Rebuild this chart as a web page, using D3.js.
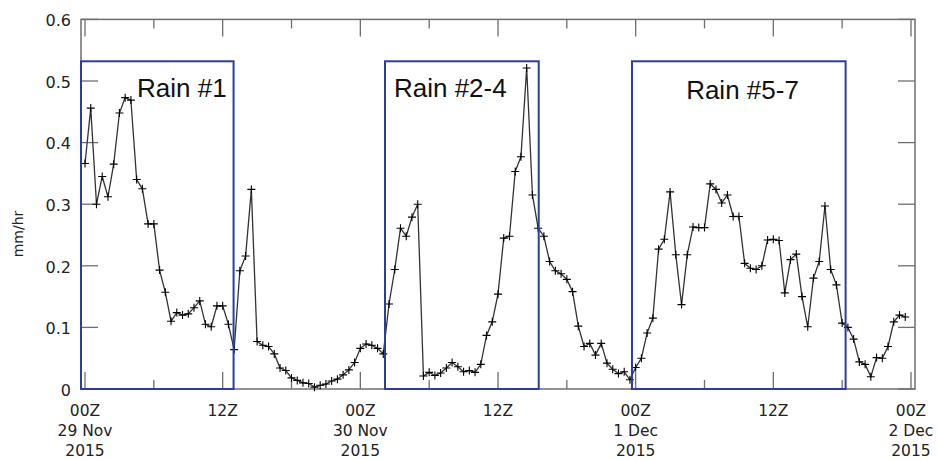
<!DOCTYPE html>
<html><head><meta charset="utf-8">
<script src="https://cdn.jsdelivr.net/npm/d3@7"></script>
<style>body{margin:0;background:#fff}svg{display:block}</style>
</head><body>
<svg id="chart" width="938" height="460"></svg>
<script>
// half-hourly rain rate (mm/hr) from 00Z 29 Nov 2015
const startHour = 0, stepHours = 0.5;
const rainRate = [
0.366,0.456,0.300,0.345,0.312,0.365,0.448,0.473,0.469,0.340,
0.325,0.268,0.268,0.193,0.157,0.110,0.124,0.120,0.122,0.132,
0.143,0.105,0.101,0.135,0.135,0.105,0.064,0.192,0.216,0.324,
0.077,0.071,0.069,0.057,0.034,0.030,0.018,0.014,0.010,0.009,
0.003,0.006,0.008,0.013,0.016,0.023,0.031,0.043,0.066,0.073,
0.071,0.066,0.057,0.138,0.194,0.261,0.248,0.279,0.300,0.021,
0.027,0.022,0.026,0.034,0.043,0.036,0.028,0.030,0.027,0.040,
0.087,0.109,0.154,0.245,0.248,0.353,0.377,0.521,0.315,0.261,
0.248,0.207,0.192,0.187,0.178,0.158,0.102,0.069,0.074,0.055,
0.074,0.042,0.032,0.025,0.028,0.015,0.035,0.050,0.091,0.115,
0.227,0.243,0.320,0.218,0.137,0.218,0.263,0.262,0.262,0.333,
0.324,0.302,0.315,0.280,0.280,0.204,0.196,0.194,0.200,0.242,
0.243,0.241,0.156,0.210,0.219,0.150,0.101,0.180,0.207,0.297,
0.194,0.169,0.107,0.100,0.081,0.044,0.040,0.020,0.051,0.050,
0.069,0.109,0.120,0.117];
const rainEvents = ["Rain #1","Rain #2-4","Rain #5-7"];
const eventStart = [-0.35, 26.15, 47.68];
const eventEnd = [12.95, 39.55, 66.3];
const eventTop = 0.532;
const labelHour = [4.53, 26.93, 52.4];
const labelValue = [0.474, 0.474, 0.471];
const yTicks = [0,0.1,0.2,0.3,0.4,0.5,0.6];
const majorHours = [0,12,24,36,48,60,72];
const minorHours = [6,18,30,42,54,66];
const xTickLines = [["00Z","29 Nov","2015"],["12Z"],["00Z","30 Nov","2015"],["12Z"],["00Z","1 Dec","2015"],["12Z"],["00Z","2 Dec","2015"]];

const svg = d3.select("#chart");
const L=81, R=915, T=19.4, B=389;
const x = d3.scaleLinear().domain([-0.35,72.35]).range([L,R]);
const y = d3.scaleLinear().domain([0,0.6]).range([B,T]);
const frameColor="#6e6e6e";
const font="DejaVu Sans, sans-serif";

// frame
svg.append("rect").attr("x",L).attr("y",T).attr("width",R-L).attr("height",B-T)
  .attr("fill","none").attr("stroke",frameColor).attr("stroke-width",1.5);

// y ticks (inward both sides)
const yt = svg.append("g");
yTicks.forEach(v=>{
  yt.append("line").attr("x1",L).attr("x2",L+17).attr("y1",y(v)).attr("y2",y(v)).attr("stroke",frameColor).attr("stroke-width",1.3);
  yt.append("line").attr("x1",R).attr("x2",R-17).attr("y1",y(v)).attr("y2",y(v)).attr("stroke",frameColor).attr("stroke-width",1.3);
  yt.append("text").attr("x",L-10).attr("y",y(v)+1).attr("dy","0.36em").attr("text-anchor","end")
    .attr("font-family",font).attr("font-size",16).attr("fill","#222").text(v===0?"0":d3.format(".1f")(v));
});
// x ticks top & bottom
const xt = svg.append("g");
majorHours.forEach((h,i)=>{
  xt.append("line").attr("x1",x(h)).attr("x2",x(h)).attr("y1",T).attr("y2",T+17).attr("stroke",frameColor).attr("stroke-width",1.3);
  xt.append("line").attr("x1",x(h)).attr("x2",x(h)).attr("y1",B).attr("y2",B-17).attr("stroke",frameColor).attr("stroke-width",1.3);
  xTickLines[i].forEach((s,k)=>{
    xt.append("text").attr("x",x(h)).attr("y",416+k*19.8).attr("text-anchor","middle")
      .attr("font-family",font).attr("font-size",15.5).attr("fill","#222").text(s);
  });
});
minorHours.forEach(h=>{
  xt.append("line").attr("x1",x(h)).attr("x2",x(h)).attr("y1",T).attr("y2",T+9).attr("stroke",frameColor).attr("stroke-width",1.3);
  xt.append("line").attr("x1",x(h)).attr("x2",x(h)).attr("y1",B).attr("y2",B-9).attr("stroke",frameColor).attr("stroke-width",1.3);
});

// y label
svg.append("text").attr("transform",`translate(23,234) rotate(-90)`).attr("text-anchor","middle")
  .attr("font-family",font).attr("font-size",14).attr("fill","#222").text("mm/hr");

// data
const pts = rainRate.map((v,i)=>({h:startHour+i*stepHours, v}));
const line = d3.line().x(d=>x(d.h)).y(d=>y(d.v));
svg.append("path").datum(pts).attr("d",line).attr("fill","none").attr("stroke","#333").attr("stroke-width",1.3);
const s=4;
svg.append("g").selectAll("path").data(pts).join("path")
  .attr("d",d=>`M${x(d.h)-s},${y(d.v)}H${x(d.h)+s}M${x(d.h)},${y(d.v)-s}V${y(d.v)+s}`)
  .attr("stroke","#000").attr("stroke-width",1.1).attr("fill","none");

// event boxes
rainEvents.forEach((name,i)=>{
  svg.append("rect").attr("x",x(eventStart[i])).attr("y",y(eventTop))
    .attr("width",x(eventEnd[i])-x(eventStart[i])).attr("height",y(0)-y(eventTop))
    .attr("fill","none").attr("stroke","#2e3d9c").attr("stroke-width",2);
  svg.append("text").attr("x",x(labelHour[i])).attr("y",y(labelValue[i]))
    .attr("font-family","Liberation Sans, Arial, sans-serif").attr("font-size",26).attr("fill","#111").text(name);
});
</script>
</body></html>
